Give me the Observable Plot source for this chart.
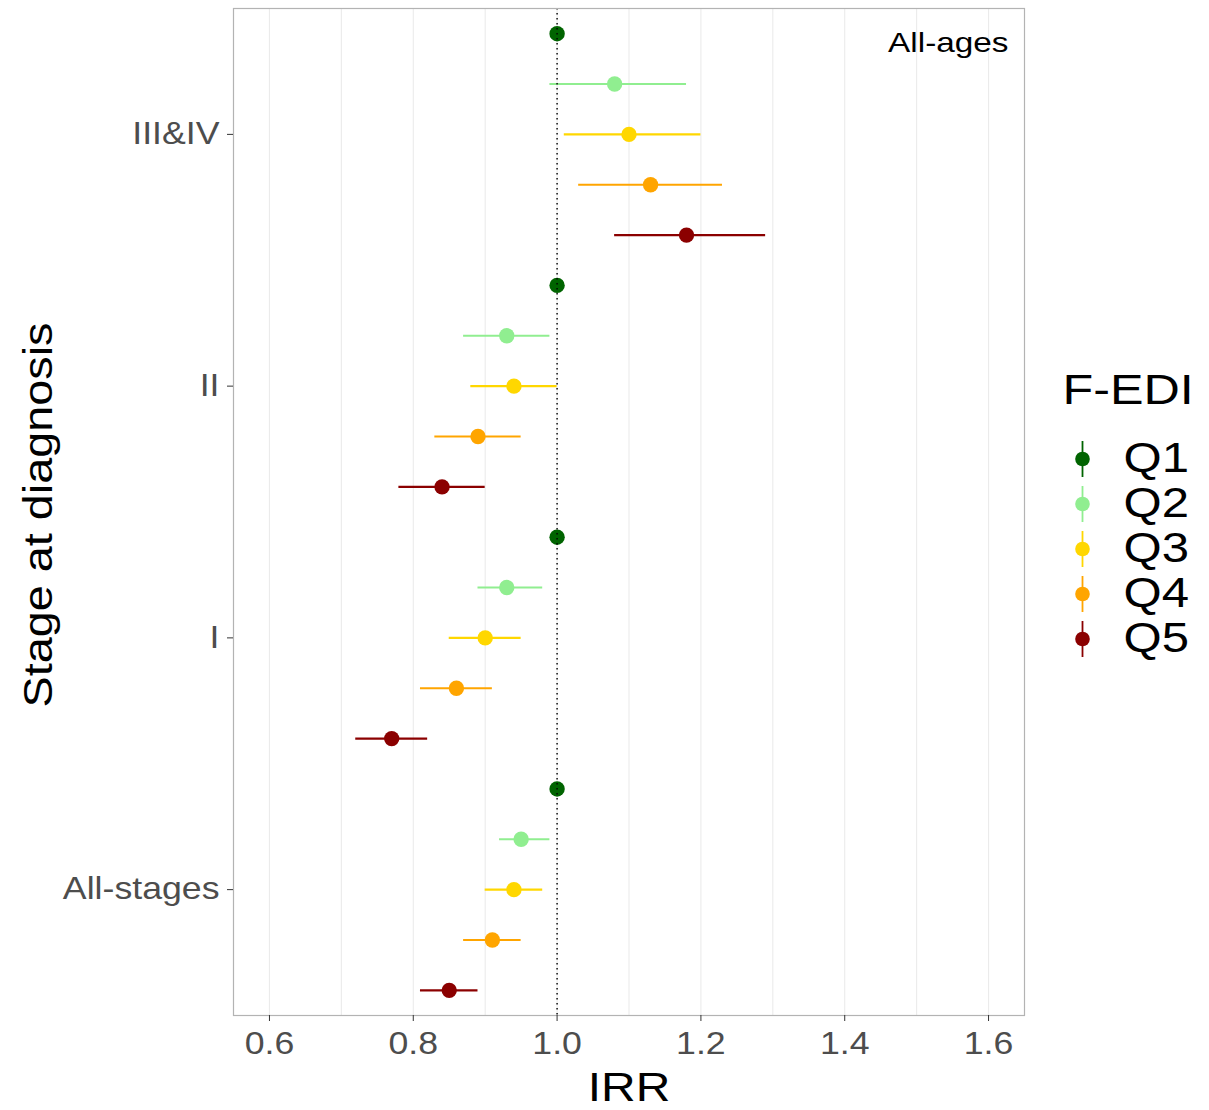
<!DOCTYPE html>
<html>
<head>
<meta charset="utf-8">
<script src="https://cdn.jsdelivr.net/npm/d3@7"></script>
<script src="https://cdn.jsdelivr.net/npm/@observablehq/plot@0.6"></script>
<style>
  body { margin: 0; background: #fff; }
  #wrap { position: relative; width: 1209px; height: 1110px; }
  #legend { position: absolute; left: 1040px; top: 360px; }
</style>
</head>
<body>
<div id="wrap"><div id="chart"></div><div id="legend"></div></div>
<script>
// ---- data ----
const stages = ["All-stages", "I", "II", "III&IV"];           // bottom to top
const quintiles = ["Q1", "Q2", "Q3", "Q4", "Q5"];
const quintileColors = ["#006400", "#90EE90", "#FFD700", "#FFA500", "#8B0000"];

const irrAllStages = [1.00, 0.95, 0.94, 0.91, 0.85];
const loAllStages  = [1.00, 0.92, 0.90, 0.87, 0.81];
const hiAllStages  = [1.00, 0.99, 0.98, 0.95, 0.89];

const irrI = [1.00, 0.93, 0.90, 0.86, 0.77];
const loI  = [1.00, 0.89, 0.85, 0.81, 0.72];
const hiI  = [1.00, 0.98, 0.95, 0.91, 0.82];

const irrII = [1.00, 0.93, 0.94, 0.89, 0.84];
const loII  = [1.00, 0.87, 0.88, 0.83, 0.78];
const hiII  = [1.00, 0.99, 1.00, 0.95, 0.90];

const irrIIIIV = [1.00, 1.08, 1.10, 1.13, 1.18];
const loIIIIV  = [1.00, 0.99, 1.01, 1.03, 1.08];
const hiIIIIV  = [1.00, 1.18, 1.20, 1.23, 1.29];

const xTicks = [0.6, 0.8, 1.0, 1.2, 1.4, 1.6];
const gridTicks = [0.6, 0.7, 0.8, 0.9, 1.0, 1.1, 1.2, 1.3, 1.4, 1.5, 1.6];

// ---- build table ----
const series = [
  [irrAllStages, loAllStages, hiAllStages],
  [irrI, loI, hiI],
  [irrII, loII, hiII],
  [irrIIIIV, loIIIIV, hiIIIIV]
];
const rows = [];
stages.forEach((s, si) => {
  const [est, lo, hi] = series[si];
  quintiles.forEach((q, qi) => {
    // dodge: width 1 across the five quintiles, Q1 on top
    rows.push({stage: s, q, irr: est[qi], lo: lo[qi], hi: hi[qi], pos: si + 1 + 0.4 - 0.2 * qi});
  });
});
const ciRows = rows.filter(d => d.hi > d.lo);

const STRETCH = 1.17;
function stretchText(svg) {
  svg.querySelectorAll("text").forEach(t => {
    const tr = t.getAttribute("transform") || "";
    t.setAttribute("transform", tr + ` scale(${STRETCH},1)`);
  });
}

const font = "'Liberation Sans', Arial, sans-serif";

const chart = Plot.plot({
  width: 1209,
  height: 1110,
  marginLeft: 233,
  marginRight: 185,
  marginTop: 8,
  marginBottom: 95,
  style: {fontFamily: font, background: "#fff"},
  x: {domain: [0.55, 1.65]},
  y: {domain: [0.5, 4.5]},
  color: {domain: quintiles, range: quintileColors},
  marks: [
    Plot.gridX(gridTicks, {stroke: "#ebebeb", strokeOpacity: 1, strokeWidth: 1.1}),
    Plot.ruleY(ciRows, {y: "pos", x1: "lo", x2: "hi", stroke: "q", strokeWidth: 2.1}),
    Plot.dot(rows, {x: "irr", y: "pos", fill: "q", r: 7.7}),
    Plot.ruleX([1], {stroke: "#000", strokeWidth: 1.4, strokeDasharray: "1.6,3.4"}),
    Plot.frame({stroke: "#b3b3b3", strokeWidth: 1.2}),
    Plot.axisX({ticks: xTicks, tickFormat: d3.format(".1f"), tickSize: 6, tickPadding: 11,
      fontSize: 30.5, color: "#4d4d4d", stroke: "#333", label: null}),
    Plot.axisY({ticks: [1, 2, 3, 4], tickFormat: d => stages[d - 1], tickSize: 6, tickPadding: 8,
      fontSize: 30.5, color: "#4d4d4d", stroke: "#333", label: null}),
    Plot.text(["IRR"], {frameAnchor: "bottom", dy: 85, lineAnchor: "bottom", textAnchor: "middle", fontSize: 41, fill: "#000"}),
    Plot.text(["Stage at diagnosis"], {frameAnchor: "left", dx: -182, dy: 3, rotate: -90, lineAnchor: "bottom", textAnchor: "middle", fontSize: 40, fill: "#000"}),
    Plot.text(["All-ages"], {frameAnchor: "top-right", dx: -16, dy: 43, lineAnchor: "bottom", textAnchor: "end", fontSize: 28.5, fill: "#000"})
  ]
});
stretchText(chart);
document.getElementById("chart").appendChild(chart);

const legend = Plot.plot({
  width: 169,
  height: 320,
  marginLeft: 42,
  marginRight: 27,
  marginTop: 74,
  marginBottom: 17,
  style: {fontFamily: font, background: "transparent"},
  x: {domain: [0, 1], axis: null},
  y: {type: "band", domain: quintiles, padding: 0, axis: null},
  color: {domain: quintiles, range: quintileColors},
  marks: [
    Plot.tickX(quintiles, {x: () => 0, y: d => d, stroke: d => d, insetTop: 5, insetBottom: 4, strokeWidth: 1.8}),
    Plot.dot(quintiles, {x: () => 0, y: d => d, fill: d => d, r: 7.3}),
    Plot.text(quintiles, {x: () => 0, y: d => d, dx: 41, textAnchor: "start", fontSize: 42, fill: "#000"}),
    Plot.text(["F-EDI"], {frameAnchor: "top-left", dx: -20, dy: -31, lineAnchor: "bottom", textAnchor: "start", fontSize: 43, fill: "#000"})
  ]
});
stretchText(legend);
document.getElementById("legend").appendChild(legend);
</script>
</body>
</html>
